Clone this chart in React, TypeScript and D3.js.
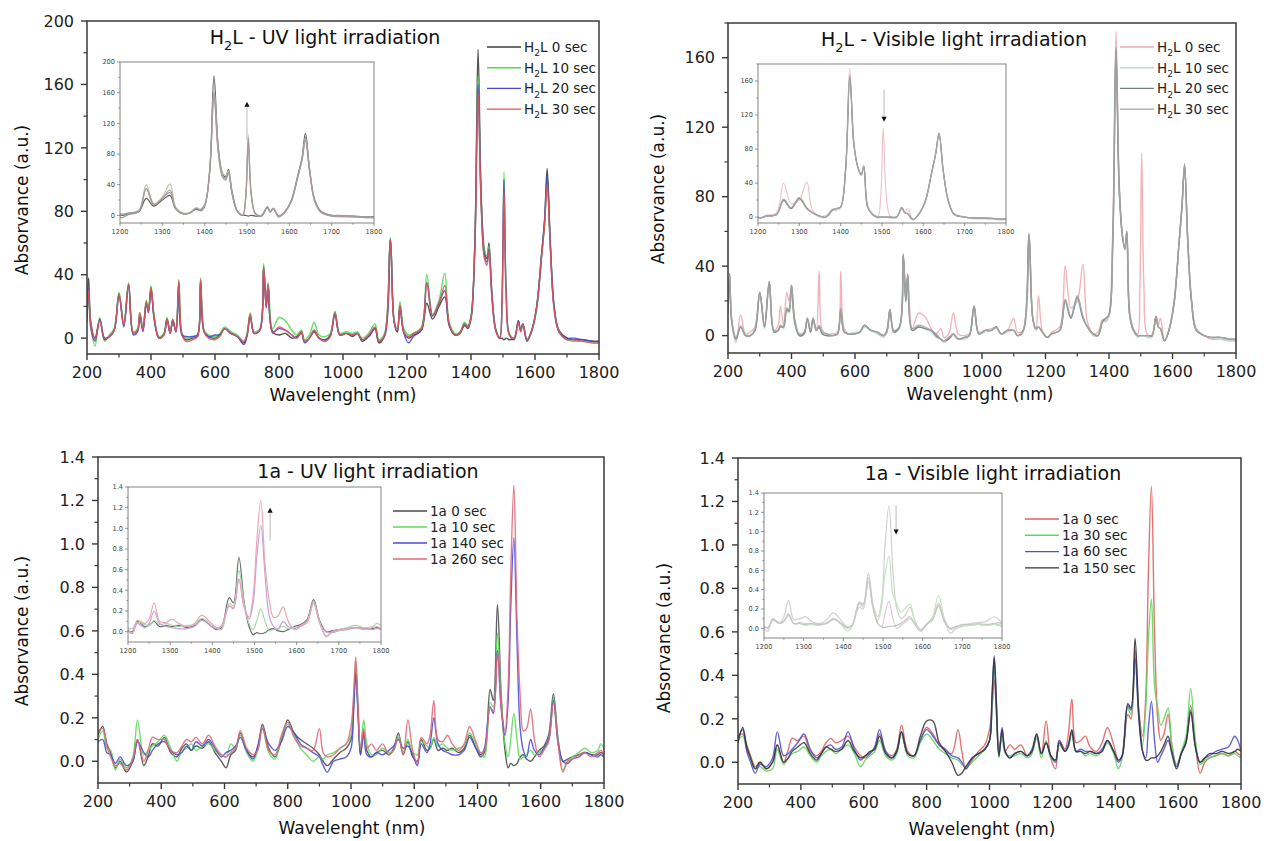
import * as d3 from 'd3'

const FONT = '"DejaVu Sans", "Liberation Sans", Arial, sans-serif'

// ---- wavelength grids (nm) ----
const WL_H2L = [
  200, 205, 212, 225, 240, 255, 270, 285, 300, 315,
  330, 345, 358, 365, 375, 385, 392, 400, 410, 425,
  440, 450, 460, 468, 478, 487, 497, 510, 530, 545,
  555, 566, 580, 600, 615, 630, 650, 670, 690, 700,
  710, 722, 740, 752, 760, 766, 780, 800, 820, 840,
  855, 870, 880, 895, 910, 925, 945, 960, 975, 990,
  1010, 1030, 1045, 1060, 1080, 1100, 1112, 1130, 1148, 1160,
  1170, 1178, 1190, 1205, 1220, 1245, 1262, 1280, 1300, 1318,
  1332, 1350, 1365, 1380, 1390, 1400, 1412, 1422, 1432, 1442,
  1450, 1456, 1465, 1477, 1490, 1497, 1503, 1510, 1520, 1535,
  1548, 1555, 1562, 1575, 1590, 1605, 1620, 1630, 1638, 1648,
  1660, 1675, 1700, 1720, 1750, 1780, 1800,
]

const WL_1A = [
  200, 215, 228, 240, 255, 270, 290, 310, 325, 345,
  360, 372, 390, 410, 430, 450, 465, 480, 495, 510,
  530, 550, 570, 590, 605, 620, 635, 650, 670, 690,
  705, 720, 740, 760, 780, 800, 820, 840, 860, 880,
  900, 912, 925, 945, 965, 985, 1000, 1008, 1015, 1022,
  1030, 1040, 1050, 1065, 1080, 1100, 1120, 1135, 1150, 1165,
  1180, 1195, 1210, 1222, 1240, 1250, 1262, 1275, 1290, 1305,
  1320, 1340, 1358, 1375, 1395, 1410, 1422, 1440, 1450, 1463,
  1475, 1487, 1497, 1505, 1515, 1525, 1535, 1545, 1555, 1568,
  1580, 1595, 1610, 1625, 1640, 1655, 1670, 1685, 1700, 1720,
  1740, 1760, 1780, 1790, 1800,
]

// ---- H2L, UV light ----
const H2L_UV_0 = [
  15, 38, 10, 0, 12, 0, 1, 5, 28, 8, 34, 3, 5, 15, 5, 22, 17, 32, 12, 0,
  2, 12, 3, 11, 4, 35, 2, -1, 0, 1, 36, 4, 1, 0, 2, 6, 3, 1, -3, 2,
  15, 3, 5, 45, 20, 33, 4, 2, 3, 0, 1, 4, -2, 0, 4, 0, -1, 2, 16, 2,
  3, 1, 3, -2, 1, 6, -3, 2, 63, 10, 4, 20, 4, 0, 2, 5, 22, 12, 20, 26,
  8, 2, 3, 8, 6, 12, 60, 182, 90, 55, 50, 60, 30, 6, 0, 0, -1, 0, -1, 0,
  11, 5, 9, -1, 5, 20, 52, 75, 107, 60, 20, 5, 0, -1, -1, -2, -2,
]
const H2L_UV_10 = [
  10, 32, 8, -5, 13, -2, 2, 6, 29, 9, 35, 4, 6, 16, 6, 24, 18, 33, 14, 1,
  3, 13, 4, 12, 5, 37, 3, 0, 1, 2, 38, 5, 2, 1, 3, 7, 4, 2, -2, 3,
  16, 4, 6, 47, 22, 35, 6, 13, 11, 5, 2, 5, -1, 2, 10, 2, 1, 3, 17, 3,
  4, 3, 4, 0, 3, 9, -1, 3, 63, 12, 6, 23, 6, 2, 3, 7, 40, 15, 24, 41,
  10, 3, 4, 10, 8, 14, 58, 165, 85, 55, 52, 58, 28, 6, 1, 25, 105, 30, 3, 0,
  10, 4, 8, -2, 4, 18, 50, 72, 100, 58, 18, 4, -1, -2, -2, -3, -3,
]
const H2L_UV_20 = [
  12, 32, 6, -2, 12, -1, 1, 5, 27, 7, 33, 2, 4, 14, 4, 22, 16, 31, 12, 0,
  2, 12, 3, 11, 4, 34, 2, 1, 1, 2, 35, 4, 1, 2, 2, 6, 3, 1, -4, 1,
  14, 3, 5, 44, 19, 33, 4, 6, 5, 2, 0, 3, -3, 0, 5, 0, -1, 1, 15, 2,
  3, 2, 3, -1, 1, 6, -2, 1, 62, 10, 4, 20, 3, -3, 1, 5, 35, 14, 22, 30,
  8, 2, 3, 9, 7, 13, 58, 160, 85, 52, 48, 56, 28, 5, 0, 24, 100, 28, 2, -1,
  11, 5, 9, -2, 5, 19, 51, 74, 102, 58, 19, 4, 0, 0, -1, -2, -2,
]
const H2L_UV_30 = [
  14, 30, 8, -1, 11, 0, 1, 5, 28, 8, 34, 3, 5, 16, 5, 23, 17, 32, 13, 0,
  2, 12, 3, 12, 4, 36, 2, -2, -1, 1, 37, 4, 0, -1, 1, 6, 3, 1, -2, 2,
  15, 3, 5, 45, 20, 34, 3, 7, 5, 2, 0, 4, -2, 0, 5, 0, -2, 1, 16, 2,
  3, 2, 3, -1, 2, 7, -2, 2, 62, 10, 5, 21, 4, 1, 3, 6, 35, 14, 22, 33,
  9, 2, 3, 9, 7, 13, 57, 155, 82, 50, 46, 55, 27, 5, 0, 22, 93, 26, 2, 0,
  10, 4, 9, -1, 5, 19, 50, 72, 97, 56, 18, 4, -1, -1, -2, -3, -3,
]

// ---- H2L, visible light ----
const H2L_VIS_0 = [
  12, 30, 8, -4, 12, 1, 2, 5, 24, 5, 30, 3, 6, 17, 6, 25, 20, 28, 10, 0,
  2, 9, 2, 9, 4, 37, 3, 1, 1, 2, 37, 4, 1, 1, 2, 6, 3, 2, 0, 3,
  15, 3, 5, 45, 20, 36, 4, 13, 11, 4, 1, 4, -1, 1, 13, 1, 0, 1, 17, 2,
  3, 4, 5, 1, 3, 10, 2, 3, 58, 10, 4, 23, 3, -1, 2, 5, 40, 16, 20, 41,
  8, 1, 2, 9, 8, 12, 60, 175, 90, 58, 50, 60, 15, 4, 1, 25, 105, 28, 1, 0,
  11, 6, 10, -3, 4, 19, 52, 75, 98, 55, 20, 4, 0, -2, -2, -3, -3,
]
const H2L_VIS_10 = [
  13, 34, 7, -3, 6, 1, 0, 3, 24, 4, 30, 2, 3, 6, 4, 14, 13, 28, 7, 0,
  1, 9, 2, 9, 3, 5, 1, 0, 1, 1, 14, 2, 1, 2, 2, 5, 3, 1, -1, 2,
  14, 2, 4, 46, 19, 34, 3, 5, 4, 2, -1, -2, -4, -2, 0, -2, -2, 0, 16, 1,
  2, 3, 4, 1, 2, 3, 0, 2, 57, 9, 3, 5, 2, -1, 1, 3, 19, 10, 21, 10,
  5, 0, 0, 8, 9, 11, 55, 168, 86, 57, 49, 58, 12, 3, -1, 0, 0, 0, -1, -1,
  10, 5, 4, -3, 4, 18, 51, 74, 97, 54, 19, 3, 0, -1, -2, -3, -3,
]
const H2L_VIS_20 = [
  14, 36, 8, -2, 5, 0, 0, 3, 25, 5, 31, 2, 3, 5, 5, 15, 14, 29, 8, 0,
  1, 10, 2, 10, 3, 5, 1, 0, 0, 1, 15, 2, 1, 1, 2, 6, 3, 2, 0, 2,
  15, 2, 5, 47, 20, 35, 3, 5, 4, 3, 0, -2, -3, -2, 1, -2, -1, 0, 17, 1,
  3, 3, 5, 1, 3, 3, 0, 3, 58, 10, 4, 5, 2, -1, 1, 3, 20, 10, 22, 10,
  5, 1, 0, 8, 10, 12, 55, 165, 85, 58, 50, 60, 12, 3, 0, 0, 0, 0, 0, 0,
  11, 5, 4, -3, 4, 19, 52, 75, 98, 55, 20, 3, 0, -1, -1, -2, -2,
]
const H2L_VIS_30 = [
  15, 35, 9, -1, 5, 0, 0, 4, 25, 6, 31, 3, 3, 6, 5, 16, 15, 29, 9, 1,
  2, 10, 3, 10, 3, 6, 2, 1, 0, 1, 16, 2, 1, 1, 2, 6, 3, 2, 0, 2,
  15, 3, 5, 46, 21, 35, 4, 6, 5, 3, 1, -2, -3, -1, 1, -2, -1, 0, 17, 1,
  3, 3, 5, 1, 3, 3, 0, 3, 59, 10, 4, 5, 2, -1, 1, 3, 21, 11, 23, 11,
  5, 1, 0, 9, 10, 12, 56, 166, 85, 58, 50, 60, 12, 3, 0, 0, 0, 0, 0, 0,
  11, 5, 4, -3, 4, 19, 52, 75, 99, 55, 20, 3, 0, -1, -1, -2, -2,
]

// ---- 1a, UV light ----
const A_UV_0 = [
  0.12, 0.16, 0.08, 0.04, -0.03, 0.00, -0.05, 0.00, 0.10, -0.02,
  0.03, 0.08, 0.07, 0.11, 0.04, 0.02, 0.06, 0.08, 0.05, 0.07,
  0.06, 0.09, 0.04, 0.00, -0.03, 0.03, 0.05, 0.13, 0.05, 0.02,
  0.06, 0.17, 0.06, 0.02, 0.10, 0.19, 0.13, 0.10, 0.08, 0.06,
  0.03, 0.00, -0.02, 0.01, 0.04, 0.06, 0.10, 0.25, 0.43, 0.25,
  0.03, 0.14, 0.05, 0.02, 0.04, 0.05, 0.03, 0.06, 0.13, 0.03,
  0.09, 0.02, 0.00, 0.10, 0.05, 0.06, 0.10, 0.05, 0.06, 0.05,
  0.06, 0.04, 0.06, 0.12, 0.06, 0.02, 0.04, 0.33, 0.28, 0.72,
  0.30, 0.05, -0.03, -0.01, -0.02, -0.01, 0.02, 0.03, 0.01, 0.00,
  0.02, 0.05, 0.07, 0.12, 0.31, 0.10, 0.00, 0.01, 0.02, 0.03,
  0.04, 0.03, 0.03, 0.04, 0.03,
]
const A_UV_10 = [
  0.10, 0.14, 0.06, 0.05, -0.04, 0.01, -0.03, 0.02, 0.19, 0.03,
  0.05, 0.07, 0.09, 0.12, 0.06, 0.00, 0.05, 0.06, 0.08, 0.05,
  0.07, 0.08, 0.05, 0.03, 0.02, 0.08, 0.06, 0.12, 0.04, 0.00,
  0.05, 0.15, 0.04, 0.01, 0.11, 0.17, 0.12, 0.06, 0.03, 0.00,
  0.02, 0.01, 0.03, 0.04, 0.06, 0.08, 0.12, 0.28, 0.46, 0.24,
  0.05, 0.19, 0.08, 0.03, 0.03, 0.06, 0.04, 0.05, 0.12, 0.04,
  0.10, 0.04, 0.03, 0.09, 0.07, 0.06, 0.11, 0.07, 0.08, 0.06,
  0.05, 0.06, 0.07, 0.13, 0.08, 0.03, 0.02, 0.27, 0.25, 0.59,
  0.28, 0.08, 0.02, 0.10, 0.22, 0.10, 0.01, 0.02, 0.03, 0.05,
  0.03, 0.04, 0.06, 0.10, 0.29, 0.09, -0.04, 0.00, 0.02, 0.04,
  0.06, 0.04, 0.05, 0.08, 0.06,
]
const A_UV_140 = [
  0.09, 0.10, 0.04, 0.03, -0.01, 0.02, -0.02, 0.00, 0.09, 0.04,
  0.02, 0.05, 0.08, 0.09, 0.05, 0.03, 0.04, 0.07, 0.05, 0.09,
  0.07, 0.10, 0.06, 0.02, 0.04, 0.05, 0.07, 0.11, 0.05, 0.01,
  0.07, 0.15, 0.08, 0.05, 0.09, 0.16, 0.13, 0.08, 0.06, 0.04,
  0.02, -0.02, -0.05, 0.00, 0.01, 0.02, 0.06, 0.22, 0.40, 0.22,
  0.03, 0.12, 0.03, 0.02, 0.04, 0.03, 0.05, 0.07, 0.10, 0.06,
  0.07, 0.03, -0.02, 0.08, 0.04, 0.08, 0.20, 0.08, 0.05, 0.04,
  0.03, 0.03, 0.05, 0.11, 0.06, 0.03, 0.06, 0.25, 0.22, 0.51,
  0.24, 0.12, 0.28, 0.70, 1.03, 0.55, 0.15, 0.05, 0.02, 0.10,
  0.05, 0.03, 0.06, 0.10, 0.28, 0.08, 0.00, -0.01, 0.01, 0.02,
  0.04, 0.03, 0.02, 0.03, 0.02,
]
const A_UV_260 = [
  0.14, 0.15, 0.07, 0.02, -0.02, -0.01, -0.04, 0.01, 0.10, 0.00,
  0.06, 0.11, 0.10, 0.10, 0.05, 0.04, 0.07, 0.10, 0.09, 0.11,
  0.08, 0.12, 0.07, 0.03, 0.02, 0.04, 0.06, 0.14, 0.06, 0.03,
  0.05, 0.16, 0.05, 0.03, 0.12, 0.18, 0.11, 0.07, 0.06, 0.05,
  0.15, 0.04, 0.02, 0.03, 0.06, 0.08, 0.16, 0.30, 0.48, 0.26,
  0.06, 0.15, 0.06, 0.08, 0.05, 0.08, 0.03, 0.05, 0.11, 0.03,
  0.19, 0.05, -0.01, 0.11, 0.08, 0.12, 0.28, 0.10, 0.09, 0.12,
  0.08, 0.05, 0.08, 0.16, 0.09, 0.04, 0.05, 0.25, 0.23, 0.50,
  0.25, 0.14, 0.35, 0.85, 1.27, 0.65, 0.30, 0.14, 0.15, 0.24,
  0.10, 0.02, 0.05, 0.09, 0.27, 0.08, -0.05, 0.00, 0.01, 0.03,
  0.04, 0.02, 0.04, 0.05, 0.03,
]

// ---- 1a, visible light ----
const A_VIS_0 = [
  0.12, 0.13, 0.08, 0.03, -0.02, 0.00, -0.03, 0.00, 0.08, 0.00,
  0.06, 0.11, 0.10, 0.12, 0.05, 0.03, 0.05, 0.09, 0.11, 0.09,
  0.10, 0.12, 0.07, 0.03, 0.02, 0.04, 0.07, 0.13, 0.05, 0.03,
  0.06, 0.17, 0.05, 0.03, 0.10, 0.16, 0.13, 0.08, 0.05, 0.04,
  0.15, 0.05, -0.03, 0.01, 0.05, 0.08, 0.15, 0.25, 0.38, 0.22,
  0.04, 0.13, 0.05, 0.08, 0.06, 0.08, 0.03, 0.05, 0.12, 0.04,
  0.19, 0.02, -0.03, 0.10, 0.06, 0.12, 0.29, 0.09, 0.10, 0.12,
  0.07, 0.05, 0.09, 0.16, 0.08, 0.01, 0.03, 0.22, 0.20, 0.52,
  0.24, 0.12, 0.30, 0.85, 1.27, 0.60, 0.20, 0.10, 0.13, 0.22,
  0.08, -0.02, 0.04, 0.10, 0.26, 0.08, -0.05, 0.00, 0.02, 0.03,
  0.04, 0.03, 0.05, 0.04, 0.03,
]
const A_VIS_30 = [
  0.10, 0.12, 0.06, 0.02, -0.03, -0.02, -0.04, -0.03, 0.06, -0.01,
  0.02, 0.04, 0.05, 0.07, 0.03, 0.00, 0.03, 0.05, 0.06, 0.04,
  0.06, 0.08, 0.04, -0.02, 0.01, 0.03, 0.05, 0.10, 0.03, 0.01,
  0.04, 0.13, 0.03, 0.02, 0.09, 0.13, 0.10, 0.06, 0.04, 0.02,
  0.01, -0.01, -0.02, 0.00, 0.03, 0.06, 0.10, 0.25, 0.45, 0.24,
  0.02, 0.13, 0.04, 0.03, 0.03, 0.04, 0.02, 0.04, 0.11, 0.02,
  0.10, 0.02, 0.01, 0.08, 0.05, 0.07, 0.13, 0.05, 0.05, 0.03,
  0.04, 0.03, 0.05, 0.09, 0.04, -0.03, 0.02, 0.25, 0.22, 0.48,
  0.22, 0.08, 0.25, 0.55, 0.75, 0.35, 0.25, 0.17, 0.20, 0.25,
  0.08, -0.01, 0.05, 0.12, 0.34, 0.10, -0.01, 0.01, 0.02, 0.03,
  0.04, 0.03, 0.04, 0.03, 0.02,
]
const A_VIS_60 = [
  0.11, 0.15, 0.05, 0.00, -0.05, -0.01, -0.02, 0.02, 0.14, 0.03,
  0.04, 0.06, 0.09, 0.13, 0.06, 0.02, 0.04, 0.07, 0.08, 0.06,
  0.07, 0.14, 0.06, 0.01, 0.03, 0.04, 0.07, 0.15, 0.05, 0.02,
  0.05, 0.14, 0.04, 0.03, 0.10, 0.15, 0.12, 0.08, 0.06, 0.03,
  0.02, 0.00, -0.03, 0.02, 0.04, 0.06, 0.10, 0.30, 0.49, 0.28,
  0.03, 0.16, 0.05, 0.02, 0.04, 0.05, 0.03, 0.06, 0.13, 0.04,
  0.09, 0.03, 0.00, 0.10, 0.05, 0.08, 0.14, 0.05, 0.06, 0.05,
  0.05, 0.04, 0.06, 0.10, 0.05, 0.00, 0.03, 0.26, 0.24, 0.48,
  0.20, 0.05, 0.02, 0.15, 0.28, 0.10, 0.00, 0.03, 0.06, 0.10,
  0.05, -0.02, 0.04, 0.09, 0.24, 0.07, 0.00, 0.02, 0.03, 0.05,
  0.06, 0.07, 0.12, 0.10, 0.05,
]
const A_VIS_150 = [
  0.09, 0.16, 0.07, 0.02, -0.03, 0.00, -0.03, 0.00, 0.08, 0.00,
  0.02, 0.05, 0.07, 0.09, 0.04, 0.01, 0.04, 0.07, 0.06, 0.05,
  0.06, 0.10, 0.05, 0.02, 0.03, 0.05, 0.06, 0.12, 0.04, 0.02,
  0.05, 0.14, 0.04, 0.03, 0.12, 0.19, 0.19, 0.09, 0.05, 0.00,
  -0.06, -0.05, -0.02, 0.02, 0.04, 0.06, 0.10, 0.30, 0.48, 0.26,
  0.03, 0.15, 0.05, 0.02, 0.04, 0.05, 0.03, 0.05, 0.13, 0.04,
  0.09, 0.03, 0.01, 0.09, 0.05, 0.07, 0.15, 0.05, 0.05, 0.04,
  0.05, 0.04, 0.05, 0.10, 0.05, 0.01, 0.03, 0.27, 0.25, 0.57,
  0.22, 0.05, 0.01, 0.01, 0.02, 0.02, 0.03, 0.05, 0.08, 0.12,
  0.04, -0.03, 0.04, 0.09, 0.23, 0.07, 0.00, 0.02, 0.04, 0.04,
  0.05, 0.04, 0.05, 0.06, 0.05,
]

const X_TICKS = [200, 400, 600, 800, 1000, 1200, 1400, 1600, 1800]
const X_MINOR = [300, 500, 700, 900, 1100, 1300, 1500, 1700]
const INSET_X_TICKS = [1200, 1300, 1400, 1500, 1600, 1700, 1800]
const INSET_X_MINOR = [1250, 1350, 1450, 1550, 1650, 1750]
const Y_H2L_UV = [0, 40, 80, 120, 160, 200]
const Y_H2L_UV_MINOR = [20, 60, 100, 140, 180]
const Y_H2L_VIS = [0, 40, 80, 120, 160]
const Y_H2L_VIS_MINOR = [20, 60, 100, 140, 180]
const Y_1A = [0, 0.2, 0.4, 0.6, 0.8, 1.0, 1.2, 1.4]
const Y_1A_MINOR = [0.1, 0.3, 0.5, 0.7, 0.9, 1.1, 1.3]

type Series = { label: string; values: number[]; color: string; inset: string }
type Inset = {
  x0: number; x1: number; yTop: number; yBot: number; yDomain: [number, number]
  yTicks: number[]; yMinor: number[]; fmt: (d: number) => string
  arrow: { wl: number; from: number; to: number }
}
type Cfg = {
  id: string; wl: number[]; series: Series[]
  x0: number; x1: number; yTop: number; yBot: number; yDomain: [number, number]
  yTicks: number[]; yMinor: number[]; fmt: (d: number) => string
  title: string; titleX: number; titleY: number
  legendX: number; legendY: number; legendDy: number
  yLabelX: number; yLabelY: number; xLabelX: number; xLabelY: number
  inset: Inset
}

const f0 = (d: number) => String(d)
const f1 = d3.format('.1f')

const PANELS: Cfg[] = [
  {
    id: 'p1', wl: WL_H2L,
    series: [
      { label: 'H2L 0 sec', values: H2L_UV_0, color: '#3c3c3c', inset: '#5e5e5e' },
      { label: 'H2L 10 sec', values: H2L_UV_10, color: '#4fdc4f', inset: '#b9cba8' },
      { label: 'H2L 20 sec', values: H2L_UV_20, color: '#4646d6', inset: '#9b9bab' },
      { label: 'H2L 30 sec', values: H2L_UV_30, color: '#e25252', inset: '#aa9a9a' },
    ],
    x0: 87, x1: 599, yTop: 21, yBot: 354, yDomain: [-10, 200],
    yTicks: Y_H2L_UV, yMinor: Y_H2L_UV_MINOR, fmt: f0,
    title: 'H2L - UV light irradiation', titleX: 325, titleY: 44,
    legendX: 487, legendY: 47, legendDy: 20.7,
    yLabelX: 22, yLabelY: 200, xLabelX: 343, xLabelY: 401,
    inset: {
      x0: 120, x1: 374, yTop: 62, yBot: 223, yDomain: [-10, 200],
      yTicks: Y_H2L_UV, yMinor: Y_H2L_UV_MINOR, fmt: f0,
      arrow: { wl: 1500, from: 98, to: 148 },
    },
  },
  {
    id: 'p2', wl: WL_H2L,
    series: [
      { label: 'H2L 0 sec', values: H2L_VIS_0, color: '#f0a9b2', inset: '#ecc6ca' },
      { label: 'H2L 10 sec', values: H2L_VIS_10, color: '#bcd9d2', inset: '#c4d2ce' },
      { label: 'H2L 20 sec', values: H2L_VIS_20, color: '#6f7d78', inset: '#808784' },
      { label: 'H2L 30 sec', values: H2L_VIS_30, color: '#a4a4a4', inset: '#a6a6a6' },
    ],
    x0: 728, x1: 1236, yTop: 23, yBot: 353, yDomain: [-10, 180],
    yTicks: Y_H2L_VIS, yMinor: Y_H2L_VIS_MINOR, fmt: f0,
    title: 'H2L - Visible light irradiation', titleX: 954, titleY: 46,
    legendX: 1120, legendY: 47, legendDy: 20.7,
    yLabelX: 658, yLabelY: 189, xLabelX: 980, xLabelY: 400,
    inset: {
      x0: 758, x1: 1006, yTop: 64, yBot: 223, yDomain: [-7, 180],
      yTicks: Y_H2L_VIS, yMinor: Y_H2L_VIS_MINOR, fmt: f0,
      arrow: { wl: 1505, from: 150, to: 112 },
    },
  },
  {
    id: 'p3', wl: WL_1A,
    series: [
      { label: '1a 0 sec', values: A_UV_0, color: '#4a4a4a', inset: '#6a6a6a' },
      { label: '1a 10 sec', values: A_UV_10, color: '#5cdc5c', inset: '#a8dca8' },
      { label: '1a 140 sec', values: A_UV_140, color: '#4a4ad8', inset: '#c6a0d6' },
      { label: '1a 260 sec', values: A_UV_260, color: '#e06a78', inset: '#e8a8b8' },
    ],
    x0: 98, x1: 604, yTop: 457, yBot: 783, yDomain: [-0.1, 1.4],
    yTicks: Y_1A, yMinor: Y_1A_MINOR, fmt: f1,
    title: '1a - UV light irradiation', titleX: 368, titleY: 478,
    legendX: 393, legendY: 511, legendDy: 16,
    yLabelX: 22, yLabelY: 631, xLabelX: 352, xLabelY: 834,
    inset: {
      x0: 128, x1: 381, yTop: 487, yBot: 642, yDomain: [-0.1, 1.4],
      yTicks: Y_1A, yMinor: Y_1A_MINOR, fmt: f1,
      arrow: { wl: 1537, from: 0.88, to: 1.2 },
    },
  },
  {
    id: 'p4', wl: WL_1A,
    series: [
      { label: '1a 0 sec', values: A_VIS_0, color: '#e06060', inset: '#d4cfcf' },
      { label: '1a 30 sec', values: A_VIS_30, color: '#5cd85c', inset: '#c2e4c2' },
      { label: '1a 60 sec', values: A_VIS_60, color: '#4e4ed6', inset: '#dccdd4' },
      { label: '1a 150 sec', values: A_VIS_150, color: '#333333', inset: '#c6c6c6' },
    ],
    x0: 738, x1: 1241, yTop: 458, yBot: 784, yDomain: [-0.1, 1.4],
    yTicks: Y_1A, yMinor: Y_1A_MINOR, fmt: f1,
    title: '1a - Visible light irradiation', titleX: 993, titleY: 480,
    legendX: 1025, legendY: 519, legendDy: 16.3,
    yLabelX: 664, yLabelY: 638, xLabelX: 982, xLabelY: 835,
    inset: {
      x0: 764, x1: 1002, yTop: 493, yBot: 638, yDomain: [-0.1, 1.4],
      yTicks: Y_1A, yMinor: Y_1A_MINOR, fmt: f1,
      arrow: { wl: 1533, from: 1.27, to: 0.97 },
    },
  },
]

// render "H2L" with a subscript 2
function Label({ text, size }: { text: string; size: number }) {
  if (!text.startsWith('H2L')) return <>{text}</>
  return (
    <>
      H
      <tspan dy={size * 0.32} fontSize={size * 0.68}>2</tspan>
      <tspan dy={-size * 0.32}>{'L' + text.slice(3)}</tspan>
    </>
  )
}

function Panel({ cfg }: { cfg: Cfg }) {
  const x = d3.scaleLinear().domain([200, 1800]).range([cfg.x0, cfg.x1])
  const y = d3.scaleLinear().domain(cfg.yDomain).range([cfg.yBot, cfg.yTop])
  const line = d3.line<number>()
    .x((_, i) => x(cfg.wl[i]))
    .y(d => y(d))
    .curve(d3.curveCatmullRom.alpha(0.5))

  const ins = cfg.inset
  const xi = d3.scaleLinear().domain([1200, 1800]).range([ins.x0, ins.x1])
  const yi = d3.scaleLinear().domain(ins.yDomain).range([ins.yBot, ins.yTop])
  const lineI = d3.line<number>()
    .x((_, i) => xi(cfg.wl[i]))
    .y(d => yi(d))
    .curve(d3.curveCatmullRom.alpha(0.5))

  const axisCol = '#3a3a3a'
  const tickFs = 16
  const inFs = 6.6

  return (
    <g>
      <defs>
        <clipPath id={cfg.id + '-clip'}>
          <rect x={cfg.x0} y={cfg.yTop} width={cfg.x1 - cfg.x0} height={cfg.yBot - cfg.yTop} />
        </clipPath>
        <clipPath id={cfg.id + '-iclip'}>
          <rect x={ins.x0} y={ins.yTop} width={ins.x1 - ins.x0} height={ins.yBot - ins.yTop} />
        </clipPath>
      </defs>

      {/* main spectra */}
      <g clipPath={`url(#${cfg.id}-clip)`}>
        {cfg.series.map(s => (
          <path key={s.label} d={line(s.values) ?? ''} fill="none" stroke={s.color}
            strokeWidth={1.4} strokeOpacity={0.88} strokeLinejoin="round" />
        ))}
      </g>

      {/* frame */}
      <rect x={cfg.x0} y={cfg.yTop} width={cfg.x1 - cfg.x0} height={cfg.yBot - cfg.yTop}
        fill="none" stroke={axisCol} strokeWidth={1.5} />

      {/* x ticks */}
      {X_TICKS.map(t => (
        <g key={'x' + t}>
          <line x1={x(t)} x2={x(t)} y1={cfg.yBot} y2={cfg.yBot + 6} stroke={axisCol} strokeWidth={1.4} />
          <text x={x(t)} y={cfg.yBot + 24} textAnchor="middle" fontSize={tickFs} fill="#222">{t}</text>
        </g>
      ))}
      {X_MINOR.map(t => (
        <line key={'xm' + t} x1={x(t)} x2={x(t)} y1={cfg.yBot} y2={cfg.yBot + 3.5} stroke={axisCol} strokeWidth={1.2} />
      ))}

      {/* y ticks */}
      {cfg.yTicks.map(t => (
        <g key={'y' + t}>
          <line x1={cfg.x0 - 6} x2={cfg.x0} y1={y(t)} y2={y(t)} stroke={axisCol} strokeWidth={1.4} />
          <text x={cfg.x0 - 13} y={y(t)} dy="0.36em" textAnchor="end" fontSize={tickFs} fill="#222">{cfg.fmt(t)}</text>
        </g>
      ))}
      {cfg.yMinor.map(t => (
        <line key={'ym' + t} x1={cfg.x0 - 3.5} x2={cfg.x0} y1={y(t)} y2={y(t)} stroke={axisCol} strokeWidth={1.2} />
      ))}

      {/* titles */}
      <text x={cfg.titleX} y={cfg.titleY} textAnchor="middle" fontSize={19} fill="#111">
        <Label text={cfg.title} size={19} />
      </text>
      <text x={cfg.xLabelX} y={cfg.xLabelY} textAnchor="middle" fontSize={17} fill="#111">Wavelenght (nm)</text>
      <text transform={`translate(${cfg.yLabelX},${cfg.yLabelY}) rotate(-90)`} textAnchor="middle"
        dy="0.36em" fontSize={17} fill="#111">Absorvance (a.u.)</text>

      {/* legend */}
      {cfg.series.map((s, i) => {
        const ly = cfg.legendY + i * cfg.legendDy
        return (
          <g key={'lg' + i}>
            <line x1={cfg.legendX} x2={cfg.legendX + 34} y1={ly} y2={ly} stroke={s.color} strokeWidth={1.4} />
            <text x={cfg.legendX + 37} y={ly} dy="0.36em" fontSize={13.5} fill="#222">
              <Label text={s.label} size={13.5} />
            </text>
          </g>
        )
      })}

      {/* inset */}
      <rect x={ins.x0} y={ins.yTop} width={ins.x1 - ins.x0} height={ins.yBot - ins.yTop} fill="#fff" />
      <g clipPath={`url(#${cfg.id}-iclip)`}>
        {cfg.series.map(s => (
          <path key={'i' + s.label} d={lineI(s.values) ?? ''} fill="none" stroke={s.inset}
            strokeWidth={1.2} strokeLinejoin="round" />
        ))}
      </g>
      <rect x={ins.x0} y={ins.yTop} width={ins.x1 - ins.x0} height={ins.yBot - ins.yTop}
        fill="none" stroke="#777" strokeWidth={0.9} />
      {INSET_X_TICKS.map(t => (
        <g key={'ix' + t}>
          <line x1={xi(t)} x2={xi(t)} y1={ins.yBot} y2={ins.yBot + 3} stroke="#777" strokeWidth={0.8} />
          <text x={xi(t)} y={ins.yBot + 11} textAnchor="middle" fontSize={inFs} fill="#444">{t}</text>
        </g>
      ))}
      {INSET_X_MINOR.map(t => (
        <line key={'ixm' + t} x1={xi(t)} x2={xi(t)} y1={ins.yBot} y2={ins.yBot + 1.8} stroke="#777" strokeWidth={0.7} />
      ))}
      {ins.yTicks.map(t => (
        <g key={'iy' + t}>
          <line x1={ins.x0 - 3} x2={ins.x0} y1={yi(t)} y2={yi(t)} stroke="#777" strokeWidth={0.8} />
          <text x={ins.x0 - 5} y={yi(t)} dy="0.36em" textAnchor="end" fontSize={inFs} fill="#444">{ins.fmt(t)}</text>
        </g>
      ))}
      {ins.yMinor.map(t => (
        <line key={'iym' + t} x1={ins.x0 - 1.8} x2={ins.x0} y1={yi(t)} y2={yi(t)} stroke="#777" strokeWidth={0.7} />
      ))}

      {/* arrow */}
      {(() => {
        const ax = xi(ins.arrow.wl)
        const yFrom = yi(ins.arrow.from)
        const yTo = yi(ins.arrow.to)
        const dir = yTo < yFrom ? -1 : 1
        return (
          <g>
            <line x1={ax} x2={ax} y1={yFrom} y2={yTo - dir * 4} stroke="#bbb" strokeWidth={1} />
            <path d={`M${ax},${yTo} L${ax - 2.6},${yTo - dir * 5} L${ax + 2.6},${yTo - dir * 5} Z`} fill="#111" />
          </g>
        )
      })()}
    </g>
  )
}

export default function App() {
  return (
    <svg width={1264} height={841} style={{ position: 'absolute', left: 0, top: 0, background: '#fff' }}
      fontFamily={FONT}>
      <rect width={1264} height={841} fill="#fff" />
      {PANELS.map(p => <Panel key={p.id} cfg={p} />)}
    </svg>
  )
}
